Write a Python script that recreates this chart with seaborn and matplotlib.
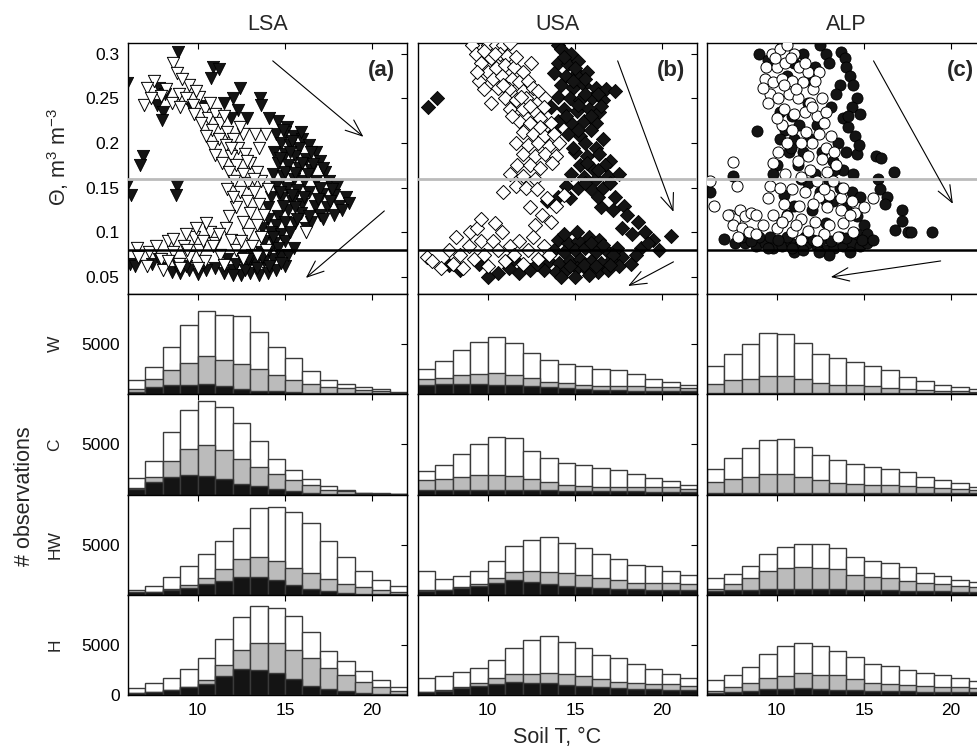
import matplotlib
matplotlib.use("Agg")
import matplotlib.pyplot as plt
import seaborn as sns

sns.set_theme(style="white")
plt.rcParams["font.family"] = ["Liberation Sans", "DejaVu Sans"]
plt.rcParams["mathtext.fontset"] = "custom"
plt.rcParams["mathtext.rm"] = "Liberation Sans"
plt.rcParams["mathtext.it"] = "Liberation Sans:italic"

sites = ["LSA", "USA", "ALP"]
panel_tags = ["(a)", "(b)", "(c)"]
seasons = ["W", "C", "HW", "H"]
bin_edges = list(range(6, 23))
theta_ticks = [0.05, 0.1, 0.15, 0.2, 0.25, 0.3]
theta_labels = ["0.05", "0.1", "0.15", "0.2", "0.25", "0.3"]
t_ticks = [10, 15, 20]
wet_line = 0.16
dry_line = 0.08

# ---------------- scatter (soil moisture vs soil T) ----------------
lsa_filled_x = [8.85, 10.9, 11.2, 10.75, 12.45, 7.8, 5.95, 8.1, 12.0, 13.55, 7.65, 8.0, 13.6, 9.6, 10.4,
                11.5, 12.3, 7.95, 14.6, 15.1, 14.1, 11.9, 12.8, 6.85, 6.7, 5.95, 6.2, 8.8, 8.75,
                14.5, 15.0, 15.5, 16.0, 14.8, 15.3, 15.8, 16.4, 16.8, 14.4, 15.0, 15.6, 16.2, 17.0,
                14.6, 15.2, 15.8, 16.5, 17.3, 14.3, 14.9, 15.5, 16.1, 16.8, 17.5, 18.0, 14.5, 15.1,
                15.7, 16.4, 17.1, 17.8, 18.5, 14.2, 14.8, 15.4, 16.0, 16.7, 17.4, 18.1, 18.7, 15.2,
                15.9, 17.0, 17.8, 14.0, 14.6, 14.0, 14.5, 15.0, 15.6, 16.2, 14.2, 14.8, 13.7, 13.8,
                14.4, 15.0, 16.5, 15.3, 11.0, 11.5, 12.0, 12.5, 13.0, 13.5, 14.0, 14.5, 15.0, 12.2,
                12.8, 13.3, 13.8, 14.3, 14.8, 15.2, 12.5, 13.1, 13.6, 14.1, 14.6, 11.7, 10.5, 10.0,
                9.5, 6.1, 6.4, 7.4, 8.0, 8.5, 9.0, 7.8, 9.3, 8.8,
                14.9, 15.4, 15.9, 16.5, 14.7, 15.3, 16.0, 16.6, 17.2, 15.0, 15.6, 16.3, 17.0, 17.7,
                14.7, 15.4, 16.1, 16.9, 17.6, 18.3, 15.6, 16.4, 17.2, 14.9, 15.7, 13.6, 14.3, 12.0,
                12.7, 13.4, 14.1, 14.8, 11.5, 12.9, 13.7, 15.5]
lsa_filled_y = [0.302, 0.285, 0.283, 0.273, 0.262, 0.262, 0.267, 0.255, 0.25, 0.25, 0.243, 0.235, 0.243, 0.24, 0.242,
                0.245, 0.237, 0.226, 0.225, 0.218, 0.228, 0.228, 0.228, 0.185, 0.175, 0.153, 0.142, 0.152, 0.142,
                0.21, 0.212, 0.208, 0.205, 0.2, 0.198, 0.195, 0.198, 0.19, 0.19, 0.188, 0.185, 0.182, 0.18,
                0.178, 0.175, 0.172, 0.17, 0.168, 0.165, 0.163, 0.16, 0.158, 0.157, 0.158, 0.152, 0.152, 0.15,
                0.147, 0.145, 0.143, 0.142, 0.14, 0.14, 0.138, 0.135, 0.132, 0.13, 0.128, 0.13, 0.133, 0.125,
                0.122, 0.12, 0.12, 0.128, 0.118, 0.115, 0.108, 0.112, 0.11, 0.105, 0.1, 0.098, 0.105, 0.09,
                0.088, 0.09, 0.112, 0.1, 0.06, 0.055, 0.058, 0.052, 0.055, 0.052, 0.055, 0.058, 0.062, 0.065,
                0.062, 0.065, 0.068, 0.07, 0.072, 0.075, 0.072, 0.075, 0.078, 0.08, 0.082, 0.07, 0.058, 0.053,
                0.058, 0.065, 0.062, 0.065, 0.06, 0.056, 0.055, 0.07, 0.062, 0.065,
                0.215, 0.202, 0.212, 0.19, 0.183, 0.19, 0.178, 0.176, 0.172, 0.168, 0.166, 0.165, 0.15, 0.148,
                0.145, 0.142, 0.14, 0.137, 0.135, 0.125, 0.128, 0.118, 0.115, 0.13, 0.115, 0.095, 0.095, 0.052,
                0.058, 0.06, 0.062, 0.066, 0.064, 0.07, 0.072, 0.082]
lsa_open_x = [8.6, 8.8, 7.5, 9.5, 8.2, 8.9, 7.9, 6.9, 9.3, 10.1, 9.7, 8.5, 10.4, 9.0, 9.8, 10.6, 11.0, 10.2,
              11.3, 10.8, 11.7, 10.5, 11.2, 12.0, 12.6, 13.3, 13.9, 11.6, 12.3, 10.8, 11.0, 11.9, 12.7, 13.5,
              11.4, 12.2, 13.0, 11.8, 12.6, 13.4, 12.1, 12.9, 13.6, 11.7, 12.4, 13.2, 14.0, 12.8, 13.5, 12.2,
              13.0, 13.8, 12.6, 13.4, 12.9, 13.6, 13.1, 13.9, 16.2, 7.1, 7.3,
              6.5, 6.6, 7.2, 7.6, 7.9, 8.3, 8.6, 8.9, 9.2, 9.5, 9.8, 10.1, 10.4, 10.7, 11.0, 11.3, 11.6,
              11.9, 12.2, 7.1, 8.0, 9.0, 10.0, 11.5, 12.5, 10.5, 11.8, 9.9, 10.3, 8.6, 9.3, 11.2, 12.6, 13.4,
              9.1, 9.9, 10.7, 11.5, 12.4, 11.9, 12.8, 13.2, 12.0, 10.9, 9.4, 8.3]
lsa_open_y = [0.29, 0.278, 0.27, 0.265, 0.26, 0.255, 0.253, 0.243, 0.25, 0.252, 0.243, 0.245, 0.238, 0.24, 0.232,
              0.228, 0.232, 0.222, 0.222, 0.215, 0.212, 0.208, 0.205, 0.205, 0.21, 0.21, 0.21, 0.198, 0.195,
              0.196, 0.187, 0.185, 0.188, 0.195, 0.178, 0.175, 0.178, 0.168, 0.165, 0.168, 0.158, 0.155, 0.158,
              0.148, 0.145, 0.145, 0.148, 0.135, 0.132, 0.128, 0.122, 0.12, 0.112, 0.108, 0.098, 0.095, 0.085,
              0.08, 0.1, 0.262, 0.25,
              0.082, 0.072, 0.078, 0.085, 0.07, 0.09, 0.078, 0.065, 0.085, 0.072, 0.095, 0.08, 0.068, 0.1,
              0.088, 0.075, 0.105, 0.092, 0.08, 0.062, 0.058, 0.06, 0.06, 0.063, 0.09, 0.11, 0.118, 0.105,
              0.09, 0.093, 0.098, 0.098, 0.07, 0.075,
              0.272, 0.258, 0.245, 0.23, 0.218, 0.195, 0.18, 0.16, 0.14, 0.085, 0.08, 0.068]

usa_filled_x = [6.6, 7.1, 14.0, 14.2, 14.8, 14.0, 14.6, 15.2, 13.8, 14.5, 15.1, 15.7, 14.2, 14.9, 15.5, 16.2,
                16.8, 17.3, 14.0, 14.7, 15.3, 16.0, 16.6, 13.6, 14.4, 15.1, 15.8, 16.4, 14.0, 14.8, 15.5,
                16.2, 13.8, 14.6, 15.3, 15.6, 16.2, 15.0, 15.7, 16.4, 17.0, 15.3, 16.0, 16.7, 14.8, 15.5,
                16.2, 16.9, 17.5, 14.5, 15.2, 15.9, 16.6, 14.0, 14.7, 13.4, 17.3, 16.5, 17.2, 17.8, 18.0,
                18.6, 17.7, 18.3, 19.0, 19.5, 20.5, 19.8, 18.8, 14.0, 14.6, 15.2, 15.8, 16.4, 13.8, 14.4,
                15.0, 15.6, 16.2, 16.8, 17.4, 13.5, 14.1, 14.7, 15.3, 15.9, 16.5, 17.1, 17.7, 13.2, 13.9,
                14.5, 15.1, 15.7, 16.3, 16.9, 17.5, 18.2, 14.2, 15.0, 15.8, 7.8, 8.4, 9.5, 10.6, 11.2,
                11.8, 12.4, 11.5, 10.0, 12.8,
                14.4, 15.0, 15.6, 14.9, 15.6, 16.3, 15.2, 15.9, 16.5, 14.5, 15.2, 15.9, 16.6, 14.9, 15.7,
                16.3, 17.0, 15.6, 16.3, 14.4, 15.1, 15.9, 16.6, 17.2, 14.7, 15.5, 16.2, 17.0, 18.5, 19.2]
usa_filled_y = [0.24, 0.25, 0.31, 0.305, 0.3, 0.29, 0.288, 0.292, 0.278, 0.275, 0.278, 0.28, 0.265, 0.262,
                0.265, 0.262, 0.26, 0.258, 0.252, 0.25, 0.248, 0.25, 0.248, 0.24, 0.238, 0.236, 0.238,
                0.235, 0.225, 0.222, 0.225, 0.222, 0.212, 0.21, 0.208, 0.2, 0.195, 0.19, 0.185, 0.188,
                0.18, 0.175, 0.172, 0.175, 0.165, 0.162, 0.16, 0.163, 0.165, 0.152, 0.15, 0.148, 0.15,
                0.14, 0.138, 0.135, 0.14, 0.128, 0.125, 0.13, 0.12, 0.112, 0.105, 0.098, 0.1, 0.092,
                0.096, 0.08, 0.082, 0.092, 0.088, 0.09, 0.095, 0.092, 0.08, 0.078, 0.08, 0.082, 0.078,
                0.08, 0.082, 0.068, 0.066, 0.068, 0.07, 0.068, 0.066, 0.07, 0.072, 0.058, 0.056, 0.058,
                0.06, 0.058, 0.056, 0.058, 0.062, 0.065, 0.05, 0.05, 0.052, 0.063, 0.058, 0.065, 0.055,
                0.06, 0.055, 0.058, 0.07, 0.05, 0.065,
                0.296, 0.284, 0.272, 0.27, 0.255, 0.255, 0.243, 0.23, 0.242, 0.23, 0.215, 0.215, 0.205,
                0.195, 0.178, 0.17, 0.155, 0.155, 0.14, 0.098, 0.1, 0.088, 0.086, 0.075, 0.062, 0.064,
                0.062, 0.064, 0.075, 0.088]
usa_open_x = [9.1, 9.3, 10.0, 10.5, 10.9, 11.3, 9.6, 10.2, 10.7, 11.1, 10.0, 10.5, 11.0, 11.5, 12.0, 9.5,
              10.3, 10.8, 11.4, 11.8, 12.3, 9.8, 10.6, 11.2, 12.0, 12.6, 11.0, 11.6, 12.2, 12.8, 13.3,
              11.3, 12.0, 12.7, 13.2, 11.8, 12.4, 13.0, 13.6, 12.0, 12.6, 13.2, 13.8, 11.6, 12.3, 12.9,
              13.5, 14.1, 12.0, 12.7, 13.3, 13.9, 11.7, 12.4, 13.0, 13.7, 11.3, 12.0, 12.7, 11.6, 12.2,
              10.9, 12.8, 13.4, 13.9, 14.4, 13.1, 13.6, 12.4, 12.7,
              6.5, 6.8, 7.8, 8.0, 8.4, 8.6, 8.9, 9.2, 9.0, 9.4, 9.6, 9.8, 10.0, 10.3, 10.6, 10.8, 11.0,
              11.3, 11.5, 11.8, 12.0, 12.3, 12.6, 12.9, 13.2, 13.5, 9.6, 10.4, 8.2, 7.3,
              9.8, 10.4, 11.6, 12.5, 10.9, 11.9, 12.9, 9.4, 10.2, 11.4, 12.4, 13.0]
usa_open_y = [0.31, 0.3, 0.31, 0.31, 0.31, 0.312, 0.29, 0.295, 0.3, 0.298, 0.28, 0.284, 0.287, 0.285, 0.28,
              0.27, 0.272, 0.275, 0.272, 0.268, 0.27, 0.26, 0.262, 0.26, 0.258, 0.262, 0.25, 0.248, 0.25,
              0.245, 0.25, 0.238, 0.238, 0.235, 0.24, 0.225, 0.222, 0.228, 0.222, 0.212, 0.21, 0.208,
              0.21, 0.2, 0.198, 0.2, 0.197, 0.2, 0.188, 0.185, 0.188, 0.185, 0.175, 0.175, 0.172, 0.178,
              0.165, 0.163, 0.16, 0.152, 0.15, 0.145, 0.148, 0.138, 0.13, 0.142, 0.12, 0.112, 0.128, 0.108,
              0.072, 0.068, 0.08, 0.065, 0.075, 0.06, 0.085, 0.07, 0.1, 0.105, 0.09, 0.075, 0.062, 0.09,
              0.08, 0.1, 0.068, 0.085, 0.075, 0.09, 0.065, 0.08, 0.095, 0.07, 0.085, 0.075, 0.115, 0.11,
              0.095, 0.06,
              0.303, 0.3, 0.296, 0.29, 0.265, 0.252, 0.258, 0.28, 0.245, 0.23, 0.242, 0.218]

alp_filled_x = [6.2, 7.5, 8.85, 9.0, 9.5, 13.7, 13.9, 14.0, 14.2, 14.4, 13.6, 14.6, 14.3, 14.8, 13.8, 14.1,
                14.5, 13.5, 14.0, 14.6, 13.2, 13.8, 14.4, 13.0, 13.6, 14.3, 14.8, 13.2, 14.0, 14.6, 15.0,
                12.5, 12.8, 11.5, 11.0, 10.6, 12.0, 11.8, 10.9, 11.3, 10.5, 11.0, 10.7, 11.5, 11.2, 10.0,
                12.2, 11.8, 12.5, 10.4, 11.0, 12.0, 10.3, 12.8, 10.8, 10.2, 12.3, 12.6, 15.7, 16.0, 15.8,
                16.7, 15.9, 16.3, 17.2, 17.2, 16.8, 17.5, 17.7, 18.9, 16.2, 7.0, 7.6, 8.2, 8.8, 9.3, 9.8,
                10.3, 10.8, 11.3, 11.8, 12.3, 12.8, 13.3, 13.8, 14.3, 14.8, 15.2, 9.6, 10.6, 11.6, 12.6,
                13.6, 14.6, 15.2, 11.0, 13.0, 9.0, 14.2,
                13.0, 13.4, 14.1, 14.7, 12.2, 13.1, 10.2, 11.4, 9.8, 10.6, 11.9, 13.3, 12.8, 8.0, 8.5,
                9.5, 10.1, 11.5, 12.1, 13.1, 14.0, 14.9, 15.5, 12.4, 10.9]
alp_filled_y = [0.145, 0.163, 0.213, 0.3, 0.293, 0.302, 0.295, 0.285, 0.275, 0.265, 0.265, 0.25, 0.24, 0.232,
                0.228, 0.218, 0.208, 0.2, 0.19, 0.188, 0.18, 0.17, 0.165, 0.158, 0.15, 0.145, 0.14, 0.135,
                0.128, 0.118, 0.108, 0.31, 0.3, 0.3, 0.29, 0.275, 0.27, 0.245, 0.23, 0.22, 0.215, 0.205,
                0.19, 0.19, 0.175, 0.175, 0.165, 0.155, 0.145, 0.142, 0.13, 0.125, 0.112, 0.11, 0.195,
                0.205, 0.22, 0.19, 0.185, 0.183, 0.16, 0.168, 0.148, 0.14, 0.125, 0.113, 0.103, 0.1, 0.1,
                0.1, 0.132, 0.093, 0.088, 0.088, 0.085, 0.088, 0.082, 0.085, 0.088, 0.085, 0.088, 0.085,
                0.08, 0.082, 0.085, 0.088, 0.085, 0.088, 0.095, 0.095, 0.095, 0.093, 0.095, 0.098, 0.098,
                0.078, 0.075, 0.095, 0.078,
                0.29, 0.255, 0.23, 0.198, 0.285, 0.24, 0.235, 0.16, 0.165, 0.12, 0.205, 0.17, 0.135, 0.095,
                0.09, 0.082, 0.092, 0.08, 0.092, 0.09, 0.094, 0.092, 0.092, 0.078, 0.082]
alp_open_x = [6.2, 6.4, 7.5, 7.7, 7.3, 7.6, 7.9, 8.2, 8.5, 8.8, 7.5, 8.0, 8.4, 8.8, 7.2, 7.8,
              9.7, 10.2, 10.6, 11.0, 9.4, 10.0, 10.5, 11.3, 11.8, 12.4, 9.3, 9.8, 10.3, 10.9, 11.5, 12.1,
              9.6, 10.1, 10.7, 11.2, 11.9, 12.6, 9.2, 10.4, 11.0, 11.6, 12.3, 12.8,
              10.3, 10.9, 11.7, 12.4, 13.1, 10.6, 12.0, 12.8, 13.3, 10.1, 11.2, 12.6, 13.4, 9.8, 11.9,
              12.9, 10.5, 11.4, 12.3, 13.2, 9.6, 10.2, 10.9, 11.6, 12.4, 13.0, 13.7, 14.3, 9.5, 10.4,
              11.3, 12.1, 12.9, 13.7, 14.5, 15.0, 15.5, 9.8, 10.6, 11.4, 12.2, 13.0, 13.8, 14.4, 9.2,
              10.0, 10.9, 11.8, 12.7, 13.5, 11.4, 12.3,
              9.9, 10.8, 11.6, 12.2, 9.5, 10.4, 11.1, 12.0, 10.0, 11.4, 12.7, 11.8, 13.8, 14.2, 12.7,
              10.3, 11.1]
alp_open_y = [0.158, 0.129, 0.179, 0.152, 0.12, 0.115, 0.125, 0.118, 0.122, 0.12, 0.108, 0.105, 0.1, 0.098,
              0.12, 0.095,
              0.3, 0.305, 0.31, 0.3, 0.285, 0.285, 0.29, 0.285, 0.28, 0.28, 0.272, 0.268, 0.272, 0.27,
              0.268, 0.26, 0.255, 0.25, 0.255, 0.25, 0.245, 0.25, 0.262, 0.238, 0.232, 0.235, 0.23, 0.235,
              0.22, 0.215, 0.212, 0.21, 0.208, 0.2, 0.2, 0.195, 0.19, 0.19, 0.18, 0.182, 0.175, 0.178,
              0.17, 0.168, 0.165, 0.162, 0.158, 0.158, 0.152, 0.15, 0.148, 0.145, 0.14, 0.142, 0.138,
              0.135, 0.138, 0.132, 0.13, 0.132, 0.128, 0.125, 0.122, 0.128, 0.138, 0.12, 0.118, 0.115,
              0.112, 0.108, 0.11, 0.1, 0.108, 0.105, 0.1, 0.102, 0.098, 0.095, 0.092, 0.09,
              0.295, 0.295, 0.29, 0.27, 0.245, 0.265, 0.26, 0.24, 0.228, 0.2, 0.222, 0.185, 0.15, 0.12,
              0.148, 0.112, 0.108]

# arrows (start T, start theta, end T, end theta)
lsa_arrows = [(14.3, 0.292, 19.5, 0.207), (20.7, 0.124, 16.2, 0.049)]
usa_arrows = [(17.45, 0.292, 20.65, 0.123), (20.65, 0.067, 18.05, 0.040)]
alp_arrows = [(15.55, 0.292, 20.1, 0.132), (19.4, 0.068, 13.1, 0.050)]

# ---------------- histograms: total (white), grey, black counts per 1 degC bin ----------------
lsa_w_total = [1400, 2700, 4730, 6930, 8330, 7900, 7770, 6170, 4670, 3570, 2270, 1430, 1070, 700, 500, 270]
lsa_w_grey = [500, 1500, 2370, 3070, 3770, 3400, 3030, 2500, 1900, 1470, 1000, 770, 600, 430, 370, 170]
lsa_w_black = [270, 700, 970, 970, 1030, 870, 570, 370, 330, 230, 170, 130, 100, 80, 80, 70]
lsa_c_total = [1670, 3370, 6230, 8430, 9300, 8700, 7100, 5370, 3570, 2430, 1500, 800, 430, 170, 100, 70]
lsa_c_grey = [670, 1770, 3300, 4500, 4900, 4470, 3530, 2770, 2000, 1400, 900, 470, 330, 100, 60, 40]
lsa_c_black = [530, 1270, 1770, 1930, 1870, 1570, 1070, 830, 570, 300, 170, 80, 50, 30, 30, 20]
lsa_hw_total = [470, 870, 1770, 2900, 4100, 5370, 6670, 8670, 8730, 8300, 7170, 5330, 3770, 2370, 1470, 830]
lsa_hw_grey = [270, 230, 570, 970, 1700, 2530, 3530, 3730, 3330, 2670, 2130, 1570, 1070, 770, 500, 300]
lsa_hw_black = [230, 230, 470, 700, 1070, 1370, 1800, 1730, 1500, 930, 530, 330, 170, 100, 60, 50]
lsa_h_total = [670, 1200, 1700, 2630, 3730, 5570, 7770, 8830, 8700, 7870, 6300, 4400, 3430, 2430, 1470, 770]
lsa_h_grey = [230, 330, 470, 830, 1500, 3000, 4500, 5170, 5200, 4530, 3670, 2700, 2000, 1300, 830, 430]
lsa_h_black = [170, 330, 470, 800, 1100, 1870, 2630, 2500, 2170, 1570, 900, 630, 370, 230, 130, 100]

usa_w_total = [2500, 3300, 4430, 5200, 5700, 5100, 4100, 3370, 3000, 2770, 2470, 2370, 2000, 1570, 1200, 930]
usa_w_grey = [1500, 1630, 1900, 2030, 2130, 1970, 1600, 1270, 1100, 970, 870, 830, 800, 770, 700, 630]
usa_w_black = [970, 1030, 1030, 1000, 970, 930, 830, 700, 600, 500, 430, 400, 370, 370, 330, 300]
usa_c_total = [2300, 2900, 4030, 5000, 5770, 5670, 4370, 3600, 3130, 2900, 2600, 2430, 2000, 1600, 1330, 900]
usa_c_grey = [1400, 1530, 1700, 1900, 1900, 1830, 1500, 1200, 900, 800, 770, 770, 700, 730, 730, 530]
usa_c_black = [470, 470, 470, 470, 470, 470, 430, 400, 330, 300, 300, 300, 300, 270, 270, 230]
usa_hw_total = [2330, 1600, 1830, 2400, 3400, 4870, 5500, 5730, 5200, 4670, 4030, 3600, 2970, 2870, 2400, 2000]
usa_hw_grey = [430, 500, 770, 1030, 1700, 2230, 2330, 2270, 2200, 2000, 1700, 1500, 1200, 1200, 1200, 1030]
usa_hw_black = [370, 430, 670, 830, 1170, 1430, 1270, 1030, 870, 770, 670, 600, 530, 500, 470, 430]
usa_h_total = [1670, 1930, 2270, 2730, 3500, 4700, 5500, 5870, 5300, 4700, 4030, 3670, 3130, 2600, 2130, 1730]
usa_h_grey = [330, 530, 830, 1230, 1670, 2100, 2100, 2170, 2100, 1900, 1570, 1270, 1170, 1100, 1100, 930]
usa_h_black = [300, 430, 670, 870, 1100, 1270, 1200, 1170, 970, 900, 770, 700, 630, 570, 500, 470]

alp_w_total = [2830, 4000, 5000, 6070, 6000, 5070, 4030, 3600, 3200, 2800, 2370, 1770, 1300, 930, 700, 500]
alp_w_grey = [1070, 1400, 1500, 1800, 1870, 1500, 1170, 970, 930, 800, 670, 530, 430, 370, 300, 230]
alp_w_black = [100, 100, 100, 100, 100, 100, 100, 100, 100, 100, 100, 80, 80, 80, 80, 80]
alp_c_total = [2500, 3670, 4670, 5400, 5500, 4770, 3970, 3400, 3000, 2730, 2530, 2200, 1730, 1400, 1100, 770]
alp_c_grey = [1270, 1570, 1700, 2000, 2030, 1770, 1400, 1170, 1000, 900, 900, 870, 700, 670, 570, 430]
alp_c_black = [130, 130, 130, 130, 130, 130, 130, 130, 130, 130, 130, 130, 130, 100, 100, 100]
alp_hw_total = [1670, 2100, 2900, 4030, 4770, 5100, 5100, 4700, 3800, 3400, 3200, 2730, 2200, 1830, 1430, 1230]
alp_hw_grey = [600, 1030, 1630, 2370, 2670, 2730, 2630, 2530, 1970, 1770, 1670, 1400, 1200, 1070, 870, 770]
alp_hw_black = [330, 430, 500, 570, 530, 530, 530, 530, 500, 470, 430, 400, 370, 330, 300, 270]
alp_h_total = [1470, 2000, 2770, 4070, 4870, 5230, 4870, 4400, 3770, 3070, 2870, 2530, 2170, 2030, 1670, 1370]
alp_h_grey = [430, 770, 1170, 1700, 1900, 2200, 2030, 2030, 1570, 1230, 1070, 970, 870, 800, 770, 700]
alp_h_black = [230, 270, 400, 570, 600, 670, 630, 530, 500, 430, 400, 370, 330, 330, 300, 270]

# --------------------
# layout helpers
# --------------------
FIG_W, FIG_H = 977, 751
COL_LEFT = [128, 418, 707]
COL_W = 279
SC_TOP, SC_H = 43, 251
HIST_H = 100.25

BLACK = "#141414"
GREY = "#bbbbbb"
EDGE = "#3a3a3a"


def rect(left, top, w, h):
    return [left / FIG_W, 1 - (top + h) / FIG_H, w / FIG_W, h / FIG_H]


def style_axes(ax):
    for s in ax.spines.values():
        s.set_color("black")
        s.set_linewidth(1.0)
        s.set_visible(True)
    ax.tick_params(direction="in", top=True, right=True, length=4, width=0.8,
                   labelsize=12.5, colors="black", pad=6)
    ax.grid(False)


def scatter_panel(ax, fx, fy, ox, oy, marker, size, arrows, tag):
    sns.scatterplot(x=fx, y=fy, marker=marker, s=size, color=BLACK, edgecolor="black",
                    linewidth=0.6, ax=ax, legend=False, zorder=2)
    sns.scatterplot(x=ox, y=oy, marker=marker, s=size, color="white", edgecolor="black",
                    linewidth=0.7, ax=ax, legend=False, zorder=3)
    ax.axhline(wet_line, color=GREY, lw=2, zorder=4)
    ax.axhline(dry_line, color="black", lw=1.8, zorder=4)
    for x0, y0, x1, y1 in arrows:
        ax.annotate("", xy=(x1, y1), xytext=(x0, y0),
                    arrowprops=dict(arrowstyle="->,head_length=1.0,head_width=0.4",
                                    color="black", lw=0.8, shrinkA=0, shrinkB=0), zorder=5)
    ax.text(0.957, 0.892, tag, transform=ax.transAxes, ha="right", va="center",
            fontsize=16, fontweight="bold")
    ax.set_xlim(6, 22)
    ax.set_ylim(0.031, 0.312)
    ax.set_xticks(t_ticks)
    ax.set_xticklabels([])
    ax.set_yticks(theta_ticks)
    ax.set_xlabel("")
    ax.set_ylabel("")


def hist_panel(ax, total, grey, black):
    centers = [e + 0.5 for e in bin_edges[:-1]]
    for vals, fc in [(total, "white"), (grey, GREY), (black, BLACK)]:
        sns.histplot(x=centers, weights=vals, bins=bin_edges, ax=ax, color=fc,
                     edgecolor=EDGE, linewidth=1.0, alpha=1)
    ax.set_xlim(6, 22)
    ax.set_ylim(0, 10000)
    ax.set_xticks(t_ticks)
    ax.set_yticks([0, 5000])
    ax.set_xlabel("")
    ax.set_ylabel("")


def main():
    fig = plt.figure(figsize=(FIG_W / 100, FIG_H / 100), dpi=100)
    fig.patch.set_facecolor("white")

    scatter_data = [
        (lsa_filled_x, lsa_filled_y, lsa_open_x, lsa_open_y, "v", 78, lsa_arrows),
        (usa_filled_x, usa_filled_y, usa_open_x, usa_open_y, "D", 52, usa_arrows),
        (alp_filled_x, alp_filled_y, alp_open_x, alp_open_y, "o", 64, alp_arrows),
    ]
    hist_data = {
        "LSA": [(lsa_w_total, lsa_w_grey, lsa_w_black), (lsa_c_total, lsa_c_grey, lsa_c_black),
                (lsa_hw_total, lsa_hw_grey, lsa_hw_black), (lsa_h_total, lsa_h_grey, lsa_h_black)],
        "USA": [(usa_w_total, usa_w_grey, usa_w_black), (usa_c_total, usa_c_grey, usa_c_black),
                (usa_hw_total, usa_hw_grey, usa_hw_black), (usa_h_total, usa_h_grey, usa_h_black)],
        "ALP": [(alp_w_total, alp_w_grey, alp_w_black), (alp_c_total, alp_c_grey, alp_c_black),
                (alp_hw_total, alp_hw_grey, alp_hw_black), (alp_h_total, alp_h_grey, alp_h_black)],
    }

    for ci, site in enumerate(sites):
        left = COL_LEFT[ci]
        ax = fig.add_axes(rect(left, SC_TOP, COL_W, SC_H))
        fx, fy, ox, oy, mk, sz, arrows = scatter_data[ci]
        scatter_panel(ax, fx, fy, ox, oy, mk, sz, arrows, panel_tags[ci])
        style_axes(ax)
        ax.set_title(site, fontsize=15.5, pad=9)
        if ci == 0:
            ax.set_yticklabels(theta_labels)
        else:
            ax.set_yticklabels([])

        for ri, season in enumerate(seasons):
            top = SC_TOP + SC_H + ri * HIST_H
            hax = fig.add_axes(rect(left, top, COL_W, HIST_H))
            hist_panel(hax, *hist_data[site][ri])
            style_axes(hax)
            if ri == len(seasons) - 1:
                hax.set_xticklabels([str(t) for t in t_ticks])
            else:
                hax.set_xticklabels([])
            if ci == 0:
                hax.set_yticklabels(["0" if ri == len(seasons) - 1 else "", "5000"])
                fig.text(55 / FIG_W, 1 - (top + HIST_H / 2) / FIG_H, season, rotation=90,
                         ha="center", va="center", fontsize=12.5)
            else:
                hax.set_yticklabels([])
            if ci == 1 and ri == len(seasons) - 1:
                hax.set_xlabel("Soil T, \u00b0C", fontsize=15.5, labelpad=6)

    fig.text(58 / FIG_W, 1 - 157 / FIG_H, r"$\Theta$, m$^3$ m$^{-3}$", rotation=90,
             ha="center", va="center", fontsize=15.5)
    fig.text(25 / FIG_W, 1 - 496 / FIG_H, "# observations", rotation=90,
             ha="center", va="center", fontsize=15.5)

    fig.savefig("out.png", dpi=100, facecolor="white")
    plt.close(fig)


if __name__ == "__main__":
    main()
